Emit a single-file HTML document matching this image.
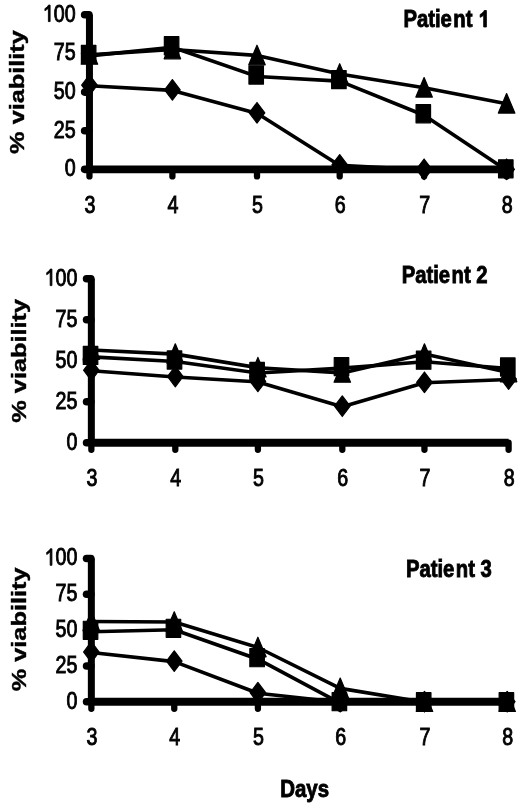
<!DOCTYPE html>
<html><head><meta charset="utf-8"><style>
html,body{margin:0;padding:0;background:#fff;}
svg{display:block;filter:grayscale(1);}
.av{fill:none;stroke:#000;stroke-width:7.0;stroke-linecap:butt;}
.ah{fill:none;stroke:#000;stroke-width:7.8;stroke-linecap:butt;}
.ty{fill:none;stroke:#000;stroke-width:7.6;stroke-linecap:round;}
.tx{fill:none;stroke:#000;stroke-width:6.3;stroke-linecap:round;}
.ln{fill:none;stroke:#000;stroke-width:3.6;stroke-linejoin:round;}
.mk{fill:#000;stroke:#000;stroke-width:1.2;stroke-linejoin:round;}
text{fill:#000;}
.one{fill-opacity:0;stroke-opacity:0;}
.num{stroke:#000;stroke-width:0.95px;font-family:"Liberation Sans",sans-serif;font-size:24.0px;}
.tt{stroke:#000;stroke-width:0.9px;font-family:"Liberation Sans",sans-serif;font-weight:bold;font-size:24px;}
.yl{stroke:#000;stroke-width:0.4px;font-family:"Liberation Sans",sans-serif;font-weight:bold;font-size:21px;}
.dy{stroke:#000;stroke-width:0.9px;font-family:"Liberation Sans",sans-serif;font-weight:bold;font-size:24.2px;}
</style></head><body>
<svg width="520" height="805" viewBox="0 0 520 805">
<rect width="520" height="805" fill="#fff"/>
<path d="M89.45 14.8V169.35" class="av"/>
<path d="M89.45 169.35H506.6" class="ah"/>
<path d="M84.65 169.35H88.95" class="ty"/>
<path d="M84.65 130.71H88.95" class="ty"/>
<path d="M84.65 92.08H88.95" class="ty"/>
<path d="M84.65 53.44H88.95" class="ty"/>
<path d="M84.65 14.8H88.95" class="ty"/>
<path d="M89.45 169.35V176.45" class="tx"/>
<path d="M172.4 169.35V176.45" class="tx"/>
<path d="M257 169.35V176.45" class="tx"/>
<path d="M339.7 169.35V176.45" class="tx"/>
<path d="M424.1 169.35V176.45" class="tx"/>
<path d="M506.6 169.35V176.45" class="tx"/>
<polyline points="89.45,85.7 172.4,90.4 257,113.3 339.7,165.4 424.1,169.8 506.6,169.8" class="ln"/>
<polyline points="89.45,55.9 172.4,47.25 257,76.5 339.7,81.1 424.1,115.25 506.6,170.3" class="ln"/>
<polyline points="89.45,54.9 172.4,49.5 257,55.5 339.7,74 424.1,87.8 506.6,103.8" class="ln"/>
<path class="mk" d="M89.45 74.9L97.25 85.2L89.45 95.5L81.65 85.2Z"/>
<rect class="mk" x="81.4" y="45.35" width="14.5" height="18.1"/>
<path class="mk" d="M89.45 44.6L97.68 64.2L81.22 64.2Z"/>
<path class="mk" d="M172.4 79.6L180.2 89.9L172.4 100.2L164.6 89.9Z"/>
<rect class="mk" x="164.35" y="36.7" width="14.5" height="18.1"/>
<path class="mk" d="M172.4 39.2L180.63 58.8L164.17 58.8Z"/>
<path class="mk" d="M257 102.5L264.8 112.8L257 123.1L249.2 112.8Z"/>
<rect class="mk" x="248.95" y="65.95" width="14.5" height="18.1"/>
<path class="mk" d="M257 45.2L265.23 64.8L248.77 64.8Z"/>
<path class="mk" d="M339.7 154.6L347.5 164.9L339.7 175.2L331.9 164.9Z"/>
<rect class="mk" x="331.65" y="70.55" width="14.5" height="18.1"/>
<path class="mk" d="M339.7 63.7L347.93 83.3L331.47 83.3Z"/>
<path class="mk" d="M424.1 159L431.9 169.3L424.1 179.6L416.3 169.3Z"/>
<rect class="mk" x="416.05" y="104.7" width="14.5" height="18.1"/>
<path class="mk" d="M424.1 77.5L432.33 97.1L415.87 97.1Z"/>
<path class="mk" d="M506.6 159L514.4 169.3L506.6 179.6L498.8 169.3Z"/>
<rect class="mk" x="498.55" y="159.75" width="14.5" height="18.1"/>
<path class="mk" d="M506.6 93.5L514.83 113.1L498.37 113.1Z"/>
<text class="num" text-anchor="end" transform="translate(75.6 176.15) scale(0.82 1)">0</text>
<text class="num" text-anchor="end" transform="translate(75.6 137.51) scale(0.82 1)">25</text>
<text class="num" text-anchor="end" transform="translate(75.6 98.88) scale(0.82 1)">50</text>
<text class="num" text-anchor="end" transform="translate(75.6 60.24) scale(0.82 1)">75</text>
<text id="h0" class="num" text-anchor="end" transform="translate(75.6 21.6) scale(0.82 1)"><tspan class="one">1</tspan>00</text>
<path d="M763 0L583 0L583 1147Q518 1085 412 1023Q306 961 223 931L223 1105Q343 1161 447 1241Q551 1321 594 1409L763 1409Z" transform="translate(75.6 21.6) scale(0.82 1) translate(-40.03 0) scale(0.011719 -0.011719)" style="fill:#000;stroke:#000;stroke-width:81.1;stroke-linejoin:round"/>
<text class="num" text-anchor="middle" transform="translate(89.95 212.95) scale(0.82 1)">3</text>
<text class="num" text-anchor="middle" transform="translate(172.9 212.95) scale(0.82 1)">4</text>
<text class="num" text-anchor="middle" transform="translate(257.5 212.95) scale(0.82 1)">5</text>
<text class="num" text-anchor="middle" transform="translate(340.2 212.95) scale(0.82 1)">6</text>
<text class="num" text-anchor="middle" transform="translate(424.6 212.95) scale(0.82 1)">7</text>
<text class="num" text-anchor="middle" transform="translate(507.1 212.95) scale(0.82 1)">8</text>
<text id="t0" class="tt" transform="translate(403.4 27) scale(0.845 1)">Patie<tspan dx="1.7">nt </tspan><tspan class="one">1</tspan></text>
<path d="M842 0L568 0L568 1032Q418 892 214 825L214 1073Q321 1108 447 1206Q573 1304 620 1409L842 1409Z" transform="translate(403.4 27) scale(0.845 1) translate(88.35 0) scale(0.011719 -0.011719)" style="fill:#000;stroke:#000;stroke-width:76.8;stroke-linejoin:round"/>
<text class="yl" text-anchor="middle" transform="translate(24.3 92) scale(1 1.205) rotate(-90)">% viability</text>
<path d="M91.35 278.8V442.75" class="av"/>
<path d="M91.35 442.75H508.6" class="ah"/>
<path d="M86.55 442.75H90.85" class="ty"/>
<path d="M86.55 401.76H90.85" class="ty"/>
<path d="M86.55 360.77H90.85" class="ty"/>
<path d="M86.55 319.79H90.85" class="ty"/>
<path d="M86.55 278.8H90.85" class="ty"/>
<path d="M91.35 442.75V449.85" class="tx"/>
<path d="M175.3 442.75V449.85" class="tx"/>
<path d="M257.9 442.75V449.85" class="tx"/>
<path d="M342.3 442.75V449.85" class="tx"/>
<path d="M424.45 442.75V449.85" class="tx"/>
<path d="M508.6 442.75V449.85" class="tx"/>
<polyline points="91.35,370.75 175.3,377 257.9,381.9 342.3,406.7 424.45,382.8 508.6,379.5" class="ln"/>
<polyline points="91.35,356.9 175.3,361.5 257.9,373 342.3,368.1 424.45,361.7 508.6,368.5" class="ln"/>
<polyline points="91.35,350 175.3,354.1 257.9,367.7 342.3,372.9 424.45,354.1 508.6,372.5" class="ln"/>
<path class="mk" d="M91.35 359.95L99.15 370.25L91.35 380.55L83.55 370.25Z"/>
<rect class="mk" x="83.3" y="346.35" width="14.5" height="18.1"/>
<path class="mk" d="M91.35 339.7L99.58 359.3L83.12 359.3Z"/>
<path class="mk" d="M175.3 366.2L183.1 376.5L175.3 386.8L167.5 376.5Z"/>
<rect class="mk" x="167.25" y="350.95" width="14.5" height="18.1"/>
<path class="mk" d="M175.3 343.8L183.53 363.4L167.07 363.4Z"/>
<path class="mk" d="M257.9 371.1L265.7 381.4L257.9 391.7L250.1 381.4Z"/>
<rect class="mk" x="249.85" y="362.45" width="14.5" height="18.1"/>
<path class="mk" d="M257.9 357.4L266.13 377L249.67 377Z"/>
<path class="mk" d="M342.3 395.9L350.1 406.2L342.3 416.5L334.5 406.2Z"/>
<rect class="mk" x="334.25" y="357.55" width="14.5" height="18.1"/>
<path class="mk" d="M342.3 362.6L350.53 382.2L334.07 382.2Z"/>
<path class="mk" d="M424.45 372L432.25 382.3L424.45 392.6L416.65 382.3Z"/>
<rect class="mk" x="416.4" y="351.15" width="14.5" height="18.1"/>
<path class="mk" d="M424.45 343.8L432.68 363.4L416.22 363.4Z"/>
<path class="mk" d="M508.6 368.7L516.4 379L508.6 389.3L500.8 379Z"/>
<rect class="mk" x="500.55" y="357.95" width="14.5" height="18.1"/>
<path class="mk" d="M508.6 362.2L516.83 381.8L500.37 381.8Z"/>
<text class="num" text-anchor="end" transform="translate(77.4 449.55) scale(0.82 1)">0</text>
<text class="num" text-anchor="end" transform="translate(77.4 408.56) scale(0.82 1)">25</text>
<text class="num" text-anchor="end" transform="translate(77.4 367.57) scale(0.82 1)">50</text>
<text class="num" text-anchor="end" transform="translate(77.4 326.59) scale(0.82 1)">75</text>
<text id="h1" class="num" text-anchor="end" transform="translate(77.4 285.6) scale(0.82 1)"><tspan class="one">1</tspan>00</text>
<path d="M763 0L583 0L583 1147Q518 1085 412 1023Q306 961 223 931L223 1105Q343 1161 447 1241Q551 1321 594 1409L763 1409Z" transform="translate(77.4 285.6) scale(0.82 1) translate(-40.03 0) scale(0.011719 -0.011719)" style="fill:#000;stroke:#000;stroke-width:81.1;stroke-linejoin:round"/>
<text class="num" text-anchor="middle" transform="translate(91.85 486.35) scale(0.82 1)">3</text>
<text class="num" text-anchor="middle" transform="translate(175.8 486.35) scale(0.82 1)">4</text>
<text class="num" text-anchor="middle" transform="translate(258.4 486.35) scale(0.82 1)">5</text>
<text class="num" text-anchor="middle" transform="translate(342.8 486.35) scale(0.82 1)">6</text>
<text class="num" text-anchor="middle" transform="translate(424.95 486.35) scale(0.82 1)">7</text>
<text class="num" text-anchor="middle" transform="translate(509.1 486.35) scale(0.82 1)">8</text>
<text class="tt" transform="translate(401.7 282.8) scale(0.845 1)">Patie<tspan dx="1.7">nt 2</tspan></text>
<text class="yl" text-anchor="middle" transform="translate(26.2 360.8) scale(1 1.205) rotate(-90)">% viability</text>
<path d="M91.35 558.5V701.75" class="av"/>
<path d="M91.35 701.75H507.2" class="ah"/>
<path d="M86.55 701.75H90.85" class="ty"/>
<path d="M86.55 665.94H90.85" class="ty"/>
<path d="M86.55 630.12H90.85" class="ty"/>
<path d="M86.55 594.31H90.85" class="ty"/>
<path d="M86.55 558.5H90.85" class="ty"/>
<path d="M91.35 701.75V708.85" class="tx"/>
<path d="M174.25 701.75V708.85" class="tx"/>
<path d="M257.9 701.75V708.85" class="tx"/>
<path d="M340.2 701.75V708.85" class="tx"/>
<path d="M424.5 701.75V708.85" class="tx"/>
<path d="M507.2 701.75V708.85" class="tx"/>
<polyline points="91.35,652.5 174.25,661.6 257.9,693.2 340.2,702.2 424.5,702.2 507.2,702.2" class="ln"/>
<polyline points="91.35,631.8 174.25,629.8 257.9,659.2 340.2,703.2 424.5,703.2 507.2,703.2" class="ln"/>
<polyline points="91.35,621.5 174.25,622 257.9,647.5 340.2,688.4 424.5,702.2 507.2,702.2" class="ln"/>
<path class="mk" d="M91.35 641.7L99.15 652L91.35 662.3L83.55 652Z"/>
<rect class="mk" x="83.3" y="621.25" width="14.5" height="18.1"/>
<path class="mk" d="M91.35 611.2L99.58 630.8L83.12 630.8Z"/>
<path class="mk" d="M174.25 650.8L182.05 661.1L174.25 671.4L166.45 661.1Z"/>
<rect class="mk" x="166.2" y="619.25" width="14.5" height="18.1"/>
<path class="mk" d="M174.25 611.7L182.48 631.3L166.02 631.3Z"/>
<path class="mk" d="M257.9 682.4L265.7 692.7L257.9 703L250.1 692.7Z"/>
<rect class="mk" x="249.85" y="648.65" width="14.5" height="18.1"/>
<path class="mk" d="M257.9 637.2L266.13 656.8L249.67 656.8Z"/>
<path class="mk" d="M340.2 691.4L348 701.7L340.2 712L332.4 701.7Z"/>
<rect class="mk" x="332.15" y="692.65" width="14.5" height="18.1"/>
<path class="mk" d="M340.2 678.1L348.43 697.7L331.97 697.7Z"/>
<path class="mk" d="M424.5 691.4L432.3 701.7L424.5 712L416.7 701.7Z"/>
<rect class="mk" x="416.45" y="692.65" width="14.5" height="18.1"/>
<path class="mk" d="M424.5 691.9L432.73 711.5L416.27 711.5Z"/>
<path class="mk" d="M507.2 691.4L515 701.7L507.2 712L499.4 701.7Z"/>
<rect class="mk" x="499.15" y="692.65" width="14.5" height="18.1"/>
<path class="mk" d="M507.2 691.9L515.43 711.5L498.97 711.5Z"/>
<text class="num" text-anchor="end" transform="translate(77.4 708.55) scale(0.82 1)">0</text>
<text class="num" text-anchor="end" transform="translate(77.4 672.74) scale(0.82 1)">25</text>
<text class="num" text-anchor="end" transform="translate(77.4 636.92) scale(0.82 1)">50</text>
<text class="num" text-anchor="end" transform="translate(77.4 601.11) scale(0.82 1)">75</text>
<text id="h2" class="num" text-anchor="end" transform="translate(77.4 565.3) scale(0.82 1)"><tspan class="one">1</tspan>00</text>
<path d="M763 0L583 0L583 1147Q518 1085 412 1023Q306 961 223 931L223 1105Q343 1161 447 1241Q551 1321 594 1409L763 1409Z" transform="translate(77.4 565.3) scale(0.82 1) translate(-40.03 0) scale(0.011719 -0.011719)" style="fill:#000;stroke:#000;stroke-width:81.1;stroke-linejoin:round"/>
<text class="num" text-anchor="middle" transform="translate(91.85 745.35) scale(0.82 1)">3</text>
<text class="num" text-anchor="middle" transform="translate(174.75 745.35) scale(0.82 1)">4</text>
<text class="num" text-anchor="middle" transform="translate(258.4 745.35) scale(0.82 1)">5</text>
<text class="num" text-anchor="middle" transform="translate(340.7 745.35) scale(0.82 1)">6</text>
<text class="num" text-anchor="middle" transform="translate(425 745.35) scale(0.82 1)">7</text>
<text class="num" text-anchor="middle" transform="translate(507.7 745.35) scale(0.82 1)">8</text>
<text class="tt" transform="translate(405.9 576.6) scale(0.845 1)">Patie<tspan dx="1.7">nt 3</tspan></text>
<text class="yl" text-anchor="middle" transform="translate(26.4 629.4) scale(1 1.205) rotate(-90)">% viability</text>
<text class="dy" text-anchor="middle" transform="translate(304.6 797.3) scale(0.845 1)">Days</text>
</svg>
</body></html>
